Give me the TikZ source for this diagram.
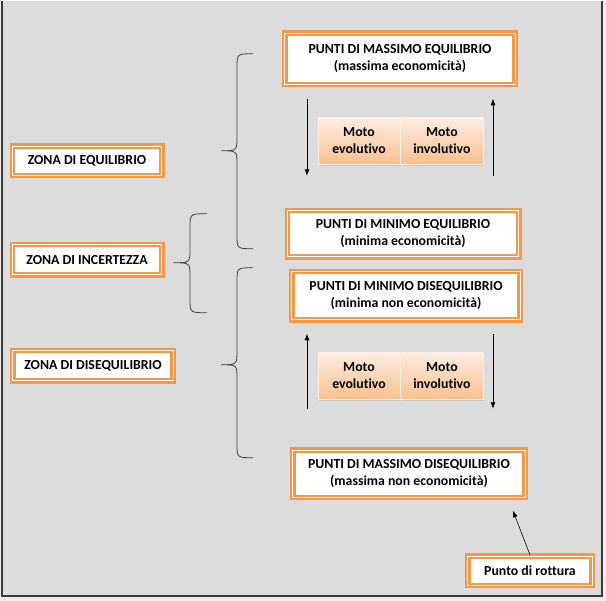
\documentclass[tikz,border=0pt]{standalone}
\usepackage{fontspec}
\setmainfont{Carlito}[Ligatures=NoCommon]
\usepackage{xcolor}
\usepackage{tikz}
\usetikzlibrary{positioning,arrows.meta,shadows}

\definecolor{boxorange}{HTML}{F79646}
\definecolor{bggray}{HTML}{DCDCDC}
\definecolor{edgegray}{HTML}{EEEEEE}
\definecolor{framegray}{HTML}{3A3A3A}
\definecolor{bracegray}{HTML}{404040}
\definecolor{motolight}{HTML}{FDEDE1}
\definecolor{mototdark}{HTML}{FAC08F}

\begin{document}
\begin{tikzpicture}[x=1pt, y=-1pt,
    puntobox/.style={draw=boxorange, line width=2.3pt, double=white, double distance=1.1pt,
        fill=white, align=center, inner sep=2pt, font=\bfseries\fontsize{13.8}{17}\selectfont},
    motocell/.style={draw=white!85!boxorange, line width=0.4pt, top color=motolight, bottom color=mototdark,
        align=center, minimum width=82.5, minimum height=46, inner sep=1pt,
        drop shadow={shadow xshift=1pt, shadow yshift=-2pt, opacity=0.2},
        font=\bfseries\fontsize{13.8}{17}\selectfont},
    moto/.style={-{Latex[length=6.5pt,width=5pt]}, line width=0.7pt, black},
    zonebrace/.style={draw=bracegray, line width=0.8pt}]

    % Background and frame
    \fill[edgegray] (0,0) rectangle (606,600);
    \fill[bggray] (2,0) rectangle (602,595);
    \draw[framegray, line width=1.5pt] (2,0) -- (2,595) -- (602,595) -- (602,0);

    % Zones on the left
    \node[puntobox, minimum width=149.3, minimum height=29.3] at (87,160) (Zeq) {ZONA DI EQUILIBRIO};
    \node[puntobox, minimum width=149.3, minimum height=30.3] at (87,259) (Zinc) {ZONA DI INCERTEZZA};
    \node[puntobox, minimum width=160.3, minimum height=30.3] at (93,365) (Zdis) {ZONA DI DISEQUILIBRIO};

    % Braces
    \draw[zonebrace] (253,53) .. controls (237,53) .. (237,67) -- (237,136) .. controls (237,150) .. (221,150)
        .. controls (237,150) .. (237,164) -- (237,234) .. controls (237,248) .. (253,248);
    \draw[zonebrace] (207,213) .. controls (190,213) .. (190,227) -- (190,248) .. controls (190,262) .. (173,262)
        .. controls (190,262) .. (190,276) -- (190,298) .. controls (190,312) .. (207,312);
    \draw[zonebrace] (253,267) .. controls (237,267) .. (237,281) -- (237,350) .. controls (237,364) .. (221,364)
        .. controls (237,364) .. (237,378) -- (237,443) .. controls (237,457) .. (253,457);

    % Points
    \node[puntobox, minimum width=230.3, minimum height=51.3] at (400,58) (MaxEq) {PUNTI DI MASSIMO EQUILIBRIO\\(massima economicità)};
    \node[puntobox, minimum width=231.3, minimum height=46.3] at (403,233) (MinEq) {PUNTI DI MINIMO EQUILIBRIO\\(minima economicità)};
    \node[puntobox, minimum width=228.3, minimum height=48.3] at (406,295) (MinDis) {PUNTI DI MINIMO DISEQUILIBRIO\\(minima non economicità)};
    \node[puntobox, minimum width=232.3, minimum height=47.3] at (409,473) (MaxDis) {PUNTI DI MASSIMO DISEQUILIBRIO\\(massima non economicità)};
    \node[puntobox, minimum width=124.3, minimum height=29.3] at (530,570) (Rottura) {Punto di rottura};

    % Moto (upper)
    \node[motocell] at (359,140) (EvoUp) {Moto\\evolutivo};
    \node[motocell, right=0pt of EvoUp] (InvUp) {Moto\\involutivo};
    \coordinate (EvoUpA) at (307,98);
    \coordinate (EvoUpB) at (307,175);
    \coordinate (InvUpA) at (493,175);
    \coordinate (InvUpB) at (493,98);
    \draw[moto] (EvoUpA) -- (EvoUpB);
    \draw[moto] (InvUpA) -- (InvUpB);

    % Moto (lower)
    \node[motocell] at (359,375) (EvoLo) {Moto\\evolutivo};
    \node[motocell, right=0pt of EvoLo] (InvLo) {Moto\\involutivo};
    \coordinate (EvoLoA) at (307,408);
    \coordinate (EvoLoB) at (307,333);
    \coordinate (InvLoA) at (493,333);
    \coordinate (InvLoB) at (493,408);
    \draw[moto] (EvoLoA) -- (EvoLoB);
    \draw[moto] (InvLoA) -- (InvLoB);

    % Break point
    \coordinate (RotturaTip) at (513,510);
    \draw[moto, line width=0.6pt] (Rottura.north) -- (RotturaTip);
\end{tikzpicture}
\end{document}
